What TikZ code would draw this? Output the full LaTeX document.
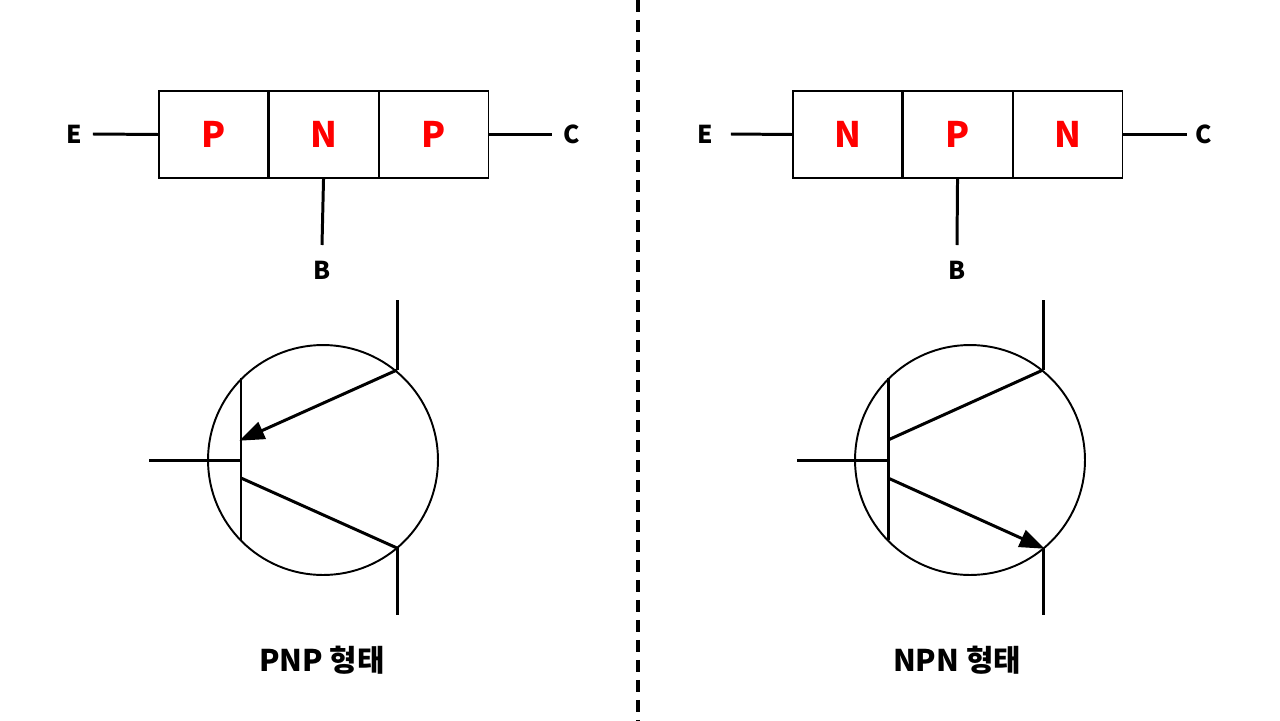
\documentclass[tikz,border=0pt]{standalone}
\usepackage{fontspec}
\setmainfont{Noto Sans CJK KR}
\usetikzlibrary{arrows.meta,positioning}
\definecolor{layerred}{RGB}{255,0,0}
\tikzset{
layerbox/.style={
  draw=black,
  line width=0.6pt,
  minimum width=2.18cm,
  minimum height=1.74cm,
  inner sep=0pt,
  font=\bfseries\fontsize{20}{20}\selectfont,
  text=layerred
  }
}
\tikzset{
lead/.style={
  line width=1.7pt
  }
}
\tikzset{
pin/.style={
  font=\bfseries\fontsize{14}{14}\selectfont
  }
}
\tikzset{
emit/.style={
  line width=1.7pt,
  -{Triangle[length=5mm,width=3.6mm]},
  shorten >=-1pt
  }
}
\begin{document}
\begin{tikzpicture}[x=0.02cm,y=-0.02cm]
    \useasboundingbox (0,0) rectangle (1280,720);
    % divider
    \draw[line width=2.4pt, dash pattern=on 0.24cm off 0.16cm] (638,0) -- (638,720);
    % PNP layers
    \begin{scope}[node distance=0pt]
    \node[layerbox] (p1) at (213.5,134.5) {P};
    \node[layerbox, right=of p1] (n1) {N};
    \node[layerbox, right=of n1] (p2) {P};
    \end{scope}
    \node[pin] (e1) at (74,134) {E};
    \node[pin] (c1) at (572,134) {C};
    \node[pin] (b1) at (322,270) {B};
    \coordinate (be1) at (322,245);
    \draw[lead] (e1.east) ++(5,0) -- (p1.west);
    \draw[lead] (p2.east) -- ++(63,0);
    \draw[lead] (n1.south) -- (be1);
    % PNP symbol
    \node[circle, draw, line width=1.1pt, minimum size=4.6cm] (pnp) at (323,460) {};
    \coordinate (bt1) at (241,378);
    \coordinate (bb1) at (241,540);
    \coordinate (bl1) at (149,460);
    \coordinate (ct1) at (397,370);
    \coordinate (cb1) at (397,548);
    \draw[lead] (bt1) -- (bb1);
    \draw[lead] (bl1) -- (241,460);
    \draw[lead] (ct1) -- (397,300);
    \draw[lead] (cb1) -- (397,615);
    \draw[emit] (ct1) -- (241,440);
    \draw[lead] (241,478) -- (cb1);
    \node[font=\bfseries\fontsize{17}{17}\selectfont] (pnplabel) at (322,660) {PNP 형태};
    % NPN layers
    \begin{scope}[node distance=0pt]
    \node[layerbox] (n2) at (847.5,134.5) {N};
    \node[layerbox, right=of n2] (p3) {P};
    \node[layerbox, right=of p3] (n3) {N};
    \end{scope}
    \node[pin] (e2) at (705,134) {E};
    \node[pin] (c2) at (1204,134) {C};
    \node[pin] (b2) at (957,270) {B};
    \coordinate (be2) at (957,245);
    \draw[lead] (e2.east) ++(12,0) -- (n2.west);
    \draw[lead] (n3.east) -- ++(64,0);
    \draw[lead] (p3.south) -- (be2);
    % NPN symbol
    \node[circle, draw, line width=1.1pt, minimum size=4.6cm] (npn) at (970,460) {};
    \coordinate (bt2) at (888,378);
    \coordinate (bb2) at (888,540);
    \coordinate (bl2) at (797,460);
    \coordinate (ct2) at (1043,370);
    \coordinate (cb2) at (1043,548);
    \draw[lead] (bt2) -- (bb2);
    \draw[lead] (bl2) -- (888,460);
    \draw[lead] (ct2) -- (1043,300);
    \draw[lead] (cb2) -- (1043,615);
    \draw[lead] (888,440) -- (ct2);
    \draw[emit] (888,478) -- (cb2);
    \node[font=\bfseries\fontsize{17}{17}\selectfont] (npnlabel) at (957,660) {NPN 형태};
\end{tikzpicture}
\end{document}
